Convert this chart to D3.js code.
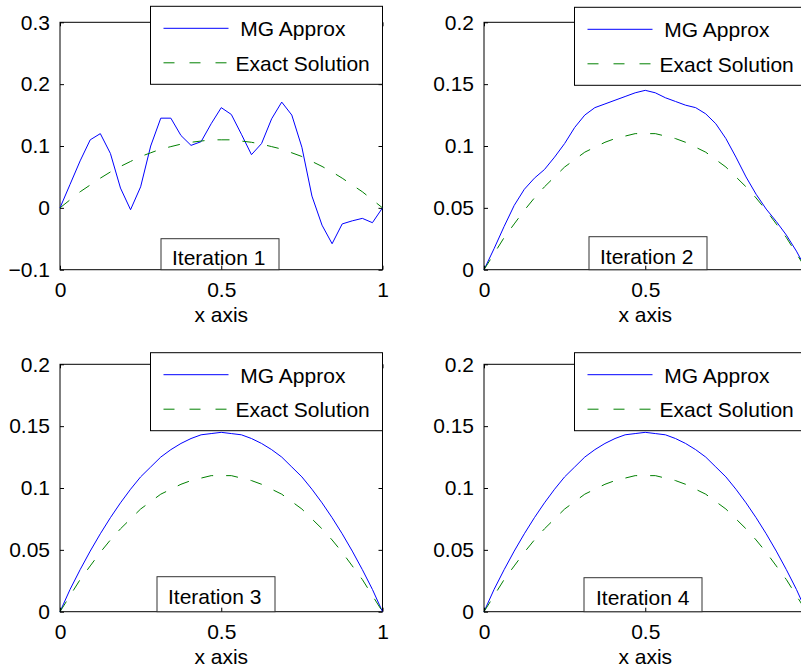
<!DOCTYPE html>
<meta charset="utf-8">
<style type="text/css">
body { margin: 0; background: #fff; }
svg { display: block; font-family: "Liberation Sans", Arial, Helvetica, sans-serif; }
.frame { fill: none; stroke: #000; stroke-width: 1; }
.approx { fill: none; stroke: #0000ff; stroke-width: 1; }
.exact { fill: none; stroke: #008000; stroke-width: 1; stroke-dasharray: 12,13; }
.axis path.domain { display: none; }
.axis line { stroke: #000; }
.axis text { font-size: 21px; fill: #000; }
</style>
<body>
</body>
<script src="https://d3js.org/d3.v7.min.js"></script>
<script>

// grid points, 32 intervals on [0, 1]
var xs = [0, 0.03125, 0.0625, 0.09375, 0.125, 0.15625, 0.1875, 0.21875, 0.25,
  0.28125, 0.3125, 0.34375, 0.375, 0.40625, 0.4375, 0.46875, 0.5,
  0.53125, 0.5625, 0.59375, 0.625, 0.65625, 0.6875, 0.71875, 0.75,
  0.78125, 0.8125, 0.84375, 0.875, 0.90625, 0.9375, 0.96875, 1];

// exact solution (same in every panel)
var exact = [0, 0.013, 0.026, 0.037, 0.048, 0.058, 0.067, 0.075, 0.083,
  0.089, 0.095, 0.099, 0.103, 0.106, 0.108, 0.110, 0.110,
  0.110, 0.108, 0.106, 0.103, 0.099, 0.095, 0.089, 0.083,
  0.075, 0.067, 0.058, 0.048, 0.037, 0.026, 0.013, 0];

// MG approximation after each iteration
var iter1 = [0, 0.038, 0.076, 0.110, 0.120, 0.088, 0.032, -0.003, 0.034,
  0.100, 0.145, 0.145, 0.117, 0.101, 0.107, 0.136, 0.162,
  0.151, 0.119, 0.086, 0.104, 0.144, 0.171, 0.150, 0.098,
  0.019, -0.028, -0.058, -0.026, -0.021, -0.017, -0.024, 0];
var iter2 = [0, 0.017, 0.035, 0.052, 0.065, 0.074, 0.081, 0.091, 0.102,
  0.115, 0.125, 0.131, 0.134, 0.137, 0.140, 0.143, 0.145,
  0.143, 0.139, 0.136, 0.133, 0.131, 0.126, 0.118, 0.106,
  0.091, 0.075, 0.061, 0.049, 0.039, 0.028, 0.015, 0];
var iter3 = [0, 0.018, 0.034, 0.049, 0.063, 0.076, 0.088, 0.099, 0.109,
  0.117, 0.125, 0.131, 0.136, 0.140, 0.143, 0.144, 0.145,
  0.144, 0.143, 0.140, 0.136, 0.131, 0.125, 0.117, 0.109,
  0.099, 0.088, 0.076, 0.063, 0.049, 0.034, 0.018, 0];
var iter4 = [0, 0.018, 0.034, 0.049, 0.063, 0.076, 0.088, 0.099, 0.109,
  0.117, 0.125, 0.131, 0.136, 0.140, 0.143, 0.144, 0.145,
  0.144, 0.143, 0.140, 0.136, 0.131, 0.125, 0.117, 0.109,
  0.099, 0.088, 0.076, 0.063, 0.049, 0.034, 0.018, 0];

// ticks
var xTicks = [0, 0.5, 1];
var xTickLabels = ["0", "0.5", "1"];
var yTicks1 = [-0.1, 0, 0.1, 0.2, 0.3];
var yTickLabels1 = ["\u22120.1", "0", "0.1", "0.2", "0.3"];
var yTicks2 = [0, 0.05, 0.1, 0.15, 0.2];
var yTickLabels2 = ["0", "0.05", "0.1", "0.15", "0.2"];

var legendNames = [" MG Approx", "Exact Solution"];
var titles = ["Iteration 1", "Iteration 2", "Iteration 3", "Iteration 4"];

// panel layout (pixels)
var panels = [
  {left: 60,  top: 22.3,  approx: iter1, yDomain: [-0.1, 0.3], yTicks: yTicks1, yLabels: yTickLabels1,
   legendDy: -16, boxX: 101, boxH: 31, textX: 11, textDy: 5},
  {left: 484, top: 22.3,  approx: iter2, yDomain: [0, 0.2], yTicks: yTicks2, yLabels: yTickLabels2,
   legendDy: -15, boxX: 105, boxH: 33, textX: 11, textDy: 6},
  {left: 60,  top: 364.3, approx: iter3, yDomain: [0, 0.2], yTicks: yTicks2, yLabels: yTickLabels2,
   legendDy: -11.6, boxX: 97, boxH: 35, textX: 11, textDy: 7.5},
  {left: 484, top: 364.3, approx: iter4, yDomain: [0, 0.2], yTicks: yTicks2, yLabels: yTickLabels2,
   legendDy: -11.6, boxX: 100, boxH: 34, textX: 12, textDy: 7}
];
var W = 801, H = 669;
var pw = 322.5, ph = 247.4;
var tick = 4;

var svg = d3.select("body").append("svg")
    .attr("width", W)
    .attr("height", H);

panels.forEach(function(p, k) {
  var g = svg.append("g")
      .attr("transform", "translate(" + p.left + "," + p.top + ")");

  var x = d3.scaleLinear().domain([0, 1]).range([0, pw]);
  var y = d3.scaleLinear().domain(p.yDomain).range([ph, 0]);

  var line = d3.line()
      .x(function(d, i) { return x(xs[i]); })
      .y(function(d) { return y(d); });

  g.append("rect")
      .attr("class", "frame")
      .attr("width", pw)
      .attr("height", ph);

  g.append("path").datum(p.approx).attr("class", "approx").attr("d", line);
  g.append("path").datum(exact).attr("class", "exact").attr("d", line);

  // "Iteration n" text box sitting on the bottom axis
  var tb = g.append("g")
      .attr("transform", "translate(" + p.boxX + "," + (ph - p.boxH) + ")");
  tb.append("rect")
      .attr("width", 118)
      .attr("height", p.boxH)
      .style("fill", "#fff")
      .style("stroke", "#333");
  tb.append("text")
      .attr("x", p.textX)
      .attr("y", p.boxH - p.textDy)
      .style("font-size", "21px")
      .text(titles[k]);

  // the right-hand figures run past the window edge: the last x label is off screen
  var shownX = xTicks.filter(function(d) { return p.left + x(d) + 4 < W; });

  // axes: labelled left/bottom, inward ticks on all four sides
  g.append("g").attr("class", "axis")
      .call(d3.axisLeft(y).tickValues(p.yTicks)
        .tickFormat(function(d, i) { return p.yLabels[i]; })
        .tickSizeInner(-tick).tickSizeOuter(0).tickPadding(10));
  g.append("g").attr("class", "axis")
      .attr("transform", "translate(" + pw + ",0)")
      .call(d3.axisRight(y).tickValues(p.yTicks).tickFormat("")
        .tickSizeInner(-tick).tickSizeOuter(0));
  g.append("g").attr("class", "axis")
      .attr("transform", "translate(0," + ph + ")")
      .call(d3.axisBottom(x).tickValues(shownX)
        .tickFormat(function(d) { return xTickLabels[xTicks.indexOf(d)]; })
        .tickSizeInner(-tick).tickSizeOuter(0).tickPadding(12));
  g.append("g").attr("class", "axis")
      .call(d3.axisTop(x).tickValues(xTicks).tickFormat("")
        .tickSizeInner(-tick).tickSizeOuter(0));

  g.append("text")
      .attr("x", x(0.5))
      .attr("y", ph + 52)
      .attr("text-anchor", "middle")
      .style("font-size", "21px")
      .text("x axis");

  // legend, upper right, overlapping the top edge
  var lg = g.append("g")
      .attr("transform", "translate(" + (pw - 232) + "," + p.legendDy + ")");
  lg.append("rect")
      .attr("width", 232)
      .attr("height", 78)
      .style("fill", "#fff")
      .style("stroke", "#000");
  lg.append("line")
      .attr("x1", 13).attr("x2", 78).attr("y1", 22).attr("y2", 22)
      .style("stroke", "#0000ff");
  lg.append("line")
      .attr("x1", 13).attr("x2", 78).attr("y1", 56.5).attr("y2", 56.5)
      .style("stroke", "#008000")
      .style("stroke-dasharray", "11,15");
  lg.append("text")
      .attr("x", 84).attr("y", 30)
      .attr("xml:space", "preserve")
      .style("white-space", "pre")
      .style("font-size", "21px")
      .text(legendNames[0]);
  lg.append("text")
      .attr("x", 85).attr("y", 64.5)
      .style("font-size", "21px")
      .text(legendNames[1]);
});

</script>
